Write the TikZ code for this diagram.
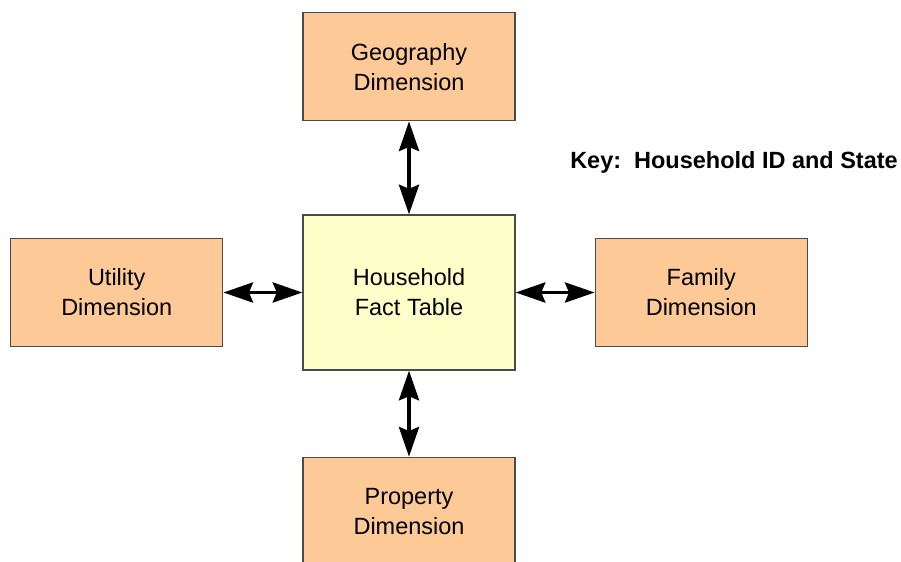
\documentclass[tikz,border=0pt]{standalone}
\usepackage{fontspec}
\setmainfont{Liberation Sans}
\usetikzlibrary{arrows.meta, positioning}
\definecolor{dimorange}{HTML}{FDC996}
\definecolor{factyellow}{HTML}{FFFFCA}
\definecolor{boxgrey}{HTML}{4A4A4A}
\tikzset{
  dimbox/.style={rectangle, draw=boxgrey, fill=dimorange, line width=0.9pt,
                 minimum width=5.3cm, minimum height=2.7cm,
                 align=center, font=\fontsize{16.7pt}{21.3pt}\selectfont},
  factbox/.style={rectangle, draw=boxgrey, fill=factyellow, line width=0.9pt,
                  minimum width=5.3cm, minimum height=3.875cm,
                  align=center, font=\fontsize{16.7pt}{21.3pt}\selectfont},
  keylabel/.style={font=\fontsize{16.7pt}{20pt}\selectfont\bfseries, inner sep=0},
  joinlink/.style={{Stealth[length=0.74cm,width=0.5cm,inset=0.1cm]}-{Stealth[length=0.74cm,width=0.5cm,inset=0.1cm]},
                   line width=2.8pt, draw=black},
}
\begin{document}
\begin{tikzpicture}
  \useasboundingbox (0,0) rectangle (22.525,-14.025);
  \node[factbox] (fact) at (10.225,-7.3125) {Household\\Fact Table};
  \node[dimbox, above=2.325cm of fact] (geo)  {Geography\\Dimension};
  \node[dimbox, below=2.15cm of fact]  (prop) {Property\\Dimension};
  \node[dimbox, left=1.975cm of fact]  (util) {Utility\\Dimension};
  \node[dimbox, right=1.975cm of fact] (fam)  {Family\\Dimension};
  \node[keylabel, anchor=base west] (key) at (14.25,-4.2) {Key:\ \ Household ID and State};

  \draw[joinlink] (geo.south) -- (fact.north);
  \draw[joinlink] (fact.south) -- (prop.north);
  \draw[joinlink] (util.east) -- (fact.west);
  \draw[joinlink] (fact.east) -- (fam.west);
\end{tikzpicture}
\end{document}
